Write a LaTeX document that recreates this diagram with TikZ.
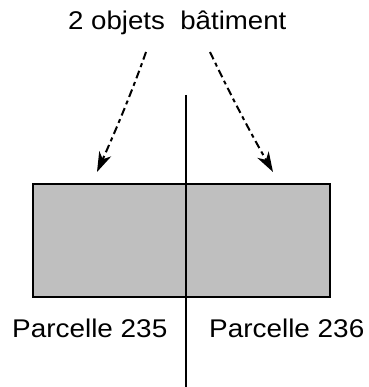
\documentclass[tikz,border=0pt]{standalone}
\usepackage{fontspec}
\setmainfont{Liberation Sans}
\usetikzlibrary{arrows.meta}
\tikzset{
  lbl/.style={inner sep=0pt, anchor=base west, font=\fontsize{25.6}{30}\selectfont},
  building/.style={draw=black, fill=black!25, line width=2.3pt, minimum width=297pt, minimum height=113pt, inner sep=0pt},
  border/.style={line width=2.3pt},
  pointer/.style={line width=2pt, dash pattern=on 8pt off 4pt on 4pt off 4pt, -{Stealth[length=20pt,width=13pt,inset=6pt]}}
}
\begin{document}
\begin{tikzpicture}[x=1pt,y=-1pt]
\useasboundingbox (0,0) rectangle (368,387);
\node[building] (bat) at (181.5,240.5) {};
\coordinate (ltop) at (186,95);
\coordinate (lbot) at (186,387);
\draw[border] (ltop) -- (lbot);
\node[lbl] (title) at (68,29.5) {\scalebox{1.08}[1]{2 objets\ \ bâtiment}};
\node[lbl] (p235) at (12,337) {\scalebox{1.09}[1]{Parcelle 235}};
\node[lbl] (p236) at (209,337) {\scalebox{1.09}[1]{Parcelle 236}};
\coordinate (a1) at (146,52);
\coordinate (a2) at (97,172);
\coordinate (b1) at (210,52);
\coordinate (b2) at (273,172);
\draw[pointer] (a1) .. controls (132,92) and (115,132) .. (a2);
\draw[pointer] (b1) .. controls (229,92) and (250,132) .. (b2);
\end{tikzpicture}
\end{document}
